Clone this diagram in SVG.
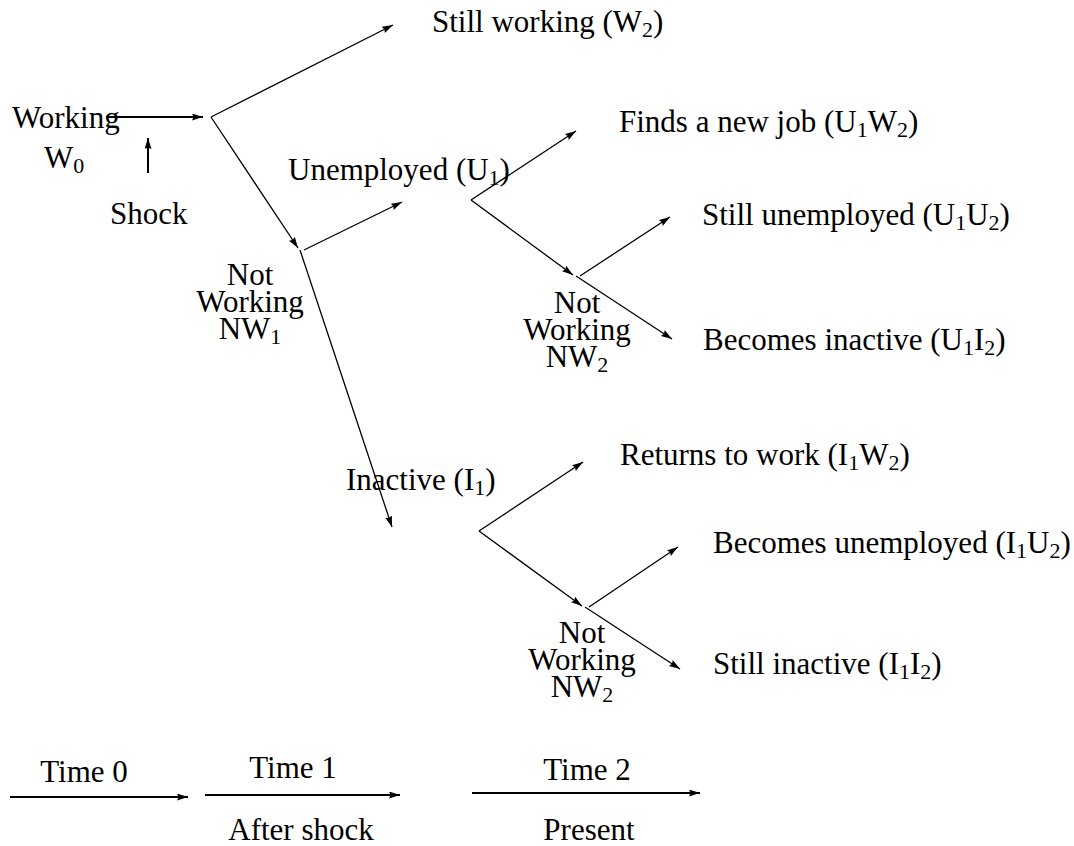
<svg xmlns="http://www.w3.org/2000/svg" width="1074" height="846" viewBox="0 0 1074 846">
<style>
text{font-family:"Liberation Serif","DejaVu Serif",serif;font-size:31px;fill:#000}
.s{font-size:22px}
.c{text-anchor:middle}
.ln{stroke:#000;stroke-width:1.3;fill:none}
.th{stroke:#000;stroke-width:2;fill:none}
</style>
<defs>
<marker id="ah" markerUnits="userSpaceOnUse" markerWidth="12" markerHeight="8" refX="11" refY="3.5" orient="auto">
<path d="M0,0 L11,3.5 L0,7 L1.5,3.5 z" fill="#000"/>
</marker>
</defs>
<rect width="1074" height="846" fill="#fff"/>
<g id="connectors">
<line class="th" x1="106" y1="117" x2="203" y2="117" marker-end="url(#ah)"/>
<line class="th" x1="148" y1="173" x2="148" y2="138" marker-end="url(#ah)"/>
<line class="ln" x1="211" y1="117" x2="393" y2="25" marker-end="url(#ah)"/>
<line class="ln" x1="211" y1="117" x2="298" y2="248" marker-end="url(#ah)"/>
<line class="ln" x1="304" y1="250" x2="402" y2="202" marker-end="url(#ah)"/>
<line class="ln" x1="300" y1="250" x2="392" y2="527" marker-end="url(#ah)"/>
<line class="ln" x1="471" y1="200" x2="576" y2="131" marker-end="url(#ah)"/>
<line class="ln" x1="471" y1="200" x2="573" y2="275" marker-end="url(#ah)"/>
<line class="ln" x1="580" y1="276" x2="670" y2="217" marker-end="url(#ah)"/>
<line class="ln" x1="576" y1="276" x2="672" y2="339" marker-end="url(#ah)"/>
<line class="ln" x1="479" y1="531" x2="583" y2="462" marker-end="url(#ah)"/>
<line class="ln" x1="479" y1="531" x2="582" y2="606" marker-end="url(#ah)"/>
<line class="ln" x1="589" y1="607" x2="678" y2="547" marker-end="url(#ah)"/>
<line class="ln" x1="585" y1="607" x2="680" y2="669" marker-end="url(#ah)"/>
<line class="th" x1="10" y1="797" x2="188" y2="797" marker-end="url(#ah)"/>
<line class="th" x1="205" y1="795" x2="400" y2="795" marker-end="url(#ah)"/>
<line class="th" x1="472" y1="793" x2="700" y2="793" marker-end="url(#ah)"/>
</g>
<g id="working"><text x="12" y="128">Working</text><text x="44" y="168">W<tspan class="s" dy="5">0</tspan></text></g>
<g id="shock"><text x="110" y="224">Shock</text></g>
<g id="still-working"><text x="432" y="32">Still working (W<tspan class="s" dy="5">2</tspan><tspan dy="-5">)</tspan></text></g>
<g id="nw1"><text class="c" x="250" y="285">Not<tspan x="250" dy="27">Working</tspan><tspan x="250" dy="27">NW</tspan><tspan class="s" dy="5">1</tspan></text></g>
<g id="unemployed"><text x="288" y="180">Unemployed (U<tspan class="s" dy="5">1</tspan><tspan dy="-5">)</tspan></text></g>
<g id="finds"><text x="619" y="132">Finds a new job (U<tspan class="s" dy="5">1</tspan><tspan dy="-5">W</tspan><tspan class="s" dy="5">2</tspan><tspan dy="-5">)</tspan></text></g>
<g id="still-unemployed"><text x="702" y="225">Still unemployed (U<tspan class="s" dy="5">1</tspan><tspan dy="-5">U</tspan><tspan class="s" dy="5">2</tspan><tspan dy="-5">)</tspan></text></g>
<g id="nw2-u"><text class="c" x="577" y="313">Not<tspan x="577" dy="27">Working</tspan><tspan x="577" dy="27">NW</tspan><tspan class="s" dy="5">2</tspan></text></g>
<g id="becomes-inactive"><text x="703" y="350">Becomes inactive (U<tspan class="s" dy="5">1</tspan><tspan dy="-5">I</tspan><tspan class="s" dy="5">2</tspan><tspan dy="-5">)</tspan></text></g>
<g id="inactive"><text x="346" y="490">Inactive (I<tspan class="s" dy="5">1</tspan><tspan dy="-5">)</tspan></text></g>
<g id="returns"><text x="620" y="465">Returns to work (I<tspan class="s" dy="5">1</tspan><tspan dy="-5">W</tspan><tspan class="s" dy="5">2</tspan><tspan dy="-5">)</tspan></text></g>
<g id="becomes-unemployed"><text x="713" y="553">Becomes unemployed (I<tspan class="s" dy="5">1</tspan><tspan dy="-5">U</tspan><tspan class="s" dy="5">2</tspan><tspan dy="-5">)</tspan></text></g>
<g id="nw2-i"><text class="c" x="582" y="643">Not<tspan x="582" dy="27">Working</tspan><tspan x="582" dy="27">NW</tspan><tspan class="s" dy="5">2</tspan></text></g>
<g id="still-inactive"><text x="713" y="674">Still inactive (I<tspan class="s" dy="5">1</tspan><tspan dy="-5">I</tspan><tspan class="s" dy="5">2</tspan><tspan dy="-5">)</tspan></text></g>
<g id="time0"><text class="c" x="84" y="782">Time 0</text></g>
<g id="time1"><text class="c" x="293" y="778">Time 1</text><text class="c" x="301" y="840">After shock</text></g>
<g id="time2"><text class="c" x="587" y="780">Time 2</text><text class="c" x="589" y="840">Present</text></g>
</svg>
